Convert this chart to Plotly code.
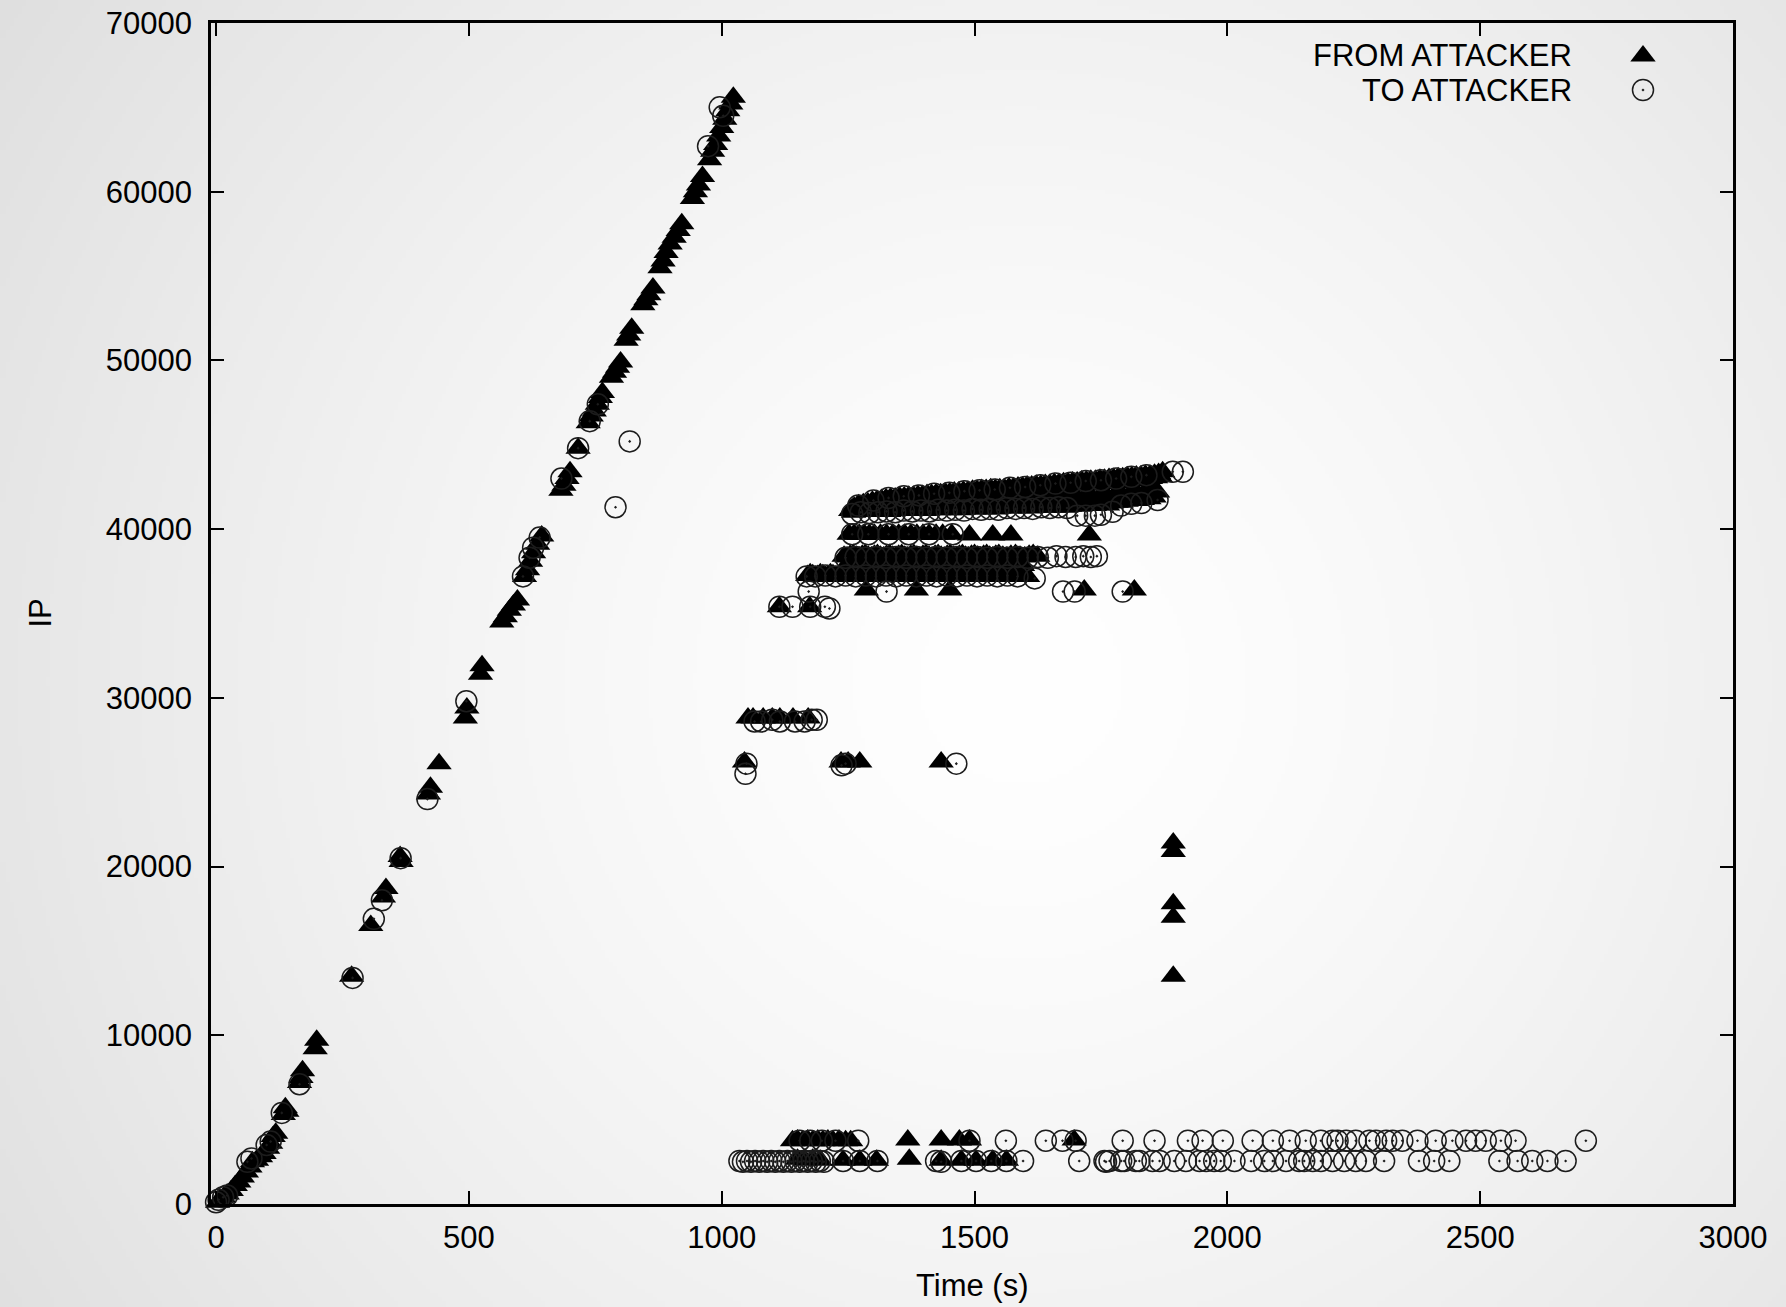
import zlib, struct, base64
import numpy as np
import plotly.graph_objects as go

# ---------------- DATA (time [s], IP) ----------------
from_main = [(3,100),(8,250),(15,400),(22,600),(30,800),(38,1100),(45,1300),(52,1600),(60,1900),(67,2200),
    (72,2500),(80,2600),(88,2800),(95,3000),(102,3300),(108,3600),(113,4000),(118,4200),(133,5300),(137,5700),
    (140,5500),(165,7200),(168,7500),(171,7900),(196,9200),(199,9700),(268,13500),(306,16500),(331,18200),
    (336,18700),(364,20600),(366,20300),(420,24300),(424,24700),(441,26100),(493,28800),(496,29400),(523,31400),
    (526,31900),(565,34500),(572,34800),(580,35200),(588,35500),(596,35800),(610,37200),(616,37600),(622,38100),
    (628,38600),(636,39100),(644,39600),(682,42300),(688,42600),(694,43000),(700,43400),(716,44800),(736,46300),
    (742,46700),(748,47000),(754,47400),(760,47800),(764,48100),(782,49000),(788,49300),(794,49600),(800,49900),
    (811,51200),(816,51500),(822,51900),(844,53300),(850,53600),(856,53900),(864,54300),(878,55500),(884,55900),
    (890,56400),(898,56900),(906,57300),(914,57700),(921,58100),(942,59600),(948,60000),(954,60400),(962,60900),
    (976,61900),(982,62400),(988,62800),(994,63300),(1000,63800),(1006,64300),(1012,64800),(1018,65200),(1023,65600)]

to_main = [(0,100),(5,250),(14,400),(22,500),(62,2500),(70,2700),(100,3500),(108,3700),(130,5400),(165,7100),
    (270,13400),(312,16900),(328,18000),(365,20500),(418,24000),(495,29800),(607,37200),(620,38300),(627,38900),
    (640,39500),(683,43000),(716,44800),(739,46400),(755,47400),(790,41300),(818,45200),(973,62700),(996,65000),
    (1003,64500)]

from_mid = [(1045,26200),(1236,26200),(1250,26200),(1273,26200),(1434,26200),(1052,28800),(1062,28800),
    (1082,28800),(1100,28800),(1115,28800),(1141,28800),(1171,28800),(1114,35400),(1174,35400)]

to_mid = [(1047,25500),(1049,26100),(1237,26000),(1245,26100),(1464,26100),(1065,28600),(1078,28600),
    (1100,28700),(1115,28600),(1145,28600),(1164,28600),(1178,28700),(1188,28700),(1114,35400),(1140,35400),
    (1175,35400),(1204,35400),(1213,35300),(1172,36300)]

from_band_top = [(1255,41100),(1268,41050),(1282,41150),(1296,41100),(1310,41050),(1324,41150),(1338,41100),
    (1352,41200),(1366,41150),(1380,41100),(1394,41200),(1408,41150),(1422,41250),(1436,41200),(1450,41150),
    (1464,41250),(1478,41200),(1492,41300),(1506,41250),(1520,41200),(1534,41300),(1548,41250),(1562,41350),
    (1576,41300),(1590,41250),(1604,41350),(1618,41300),(1632,41400),(1646,41350),(1660,41300),(1674,41400),
    (1688,41350),(1702,41450),(1716,41400),(1730,41500),(1744,41450),(1763,41430),(1780,41600),(1800,41650),
    (1820,41700),(1845,41800),
    (1262,41300),(1280,41500),(1298,41650),(1316,41750),(1334,41850),(1352,41900),(1370,41950),(1388,42000),
    (1406,42050),(1424,42100),(1442,42150),(1460,42200),(1478,42250),(1496,42300),(1514,42350),(1532,42400),
    (1550,42400),(1568,42450),(1586,42500),(1604,42550),(1622,42600),(1640,42650),(1658,42700),(1676,42750),
    (1694,42800),(1712,42850),(1730,42900),(1748,42950),(1766,43000),(1784,43050),(1802,43100),(1820,43150),
    (1838,43200),(1856,43250),(1872,43400),
    (1275,41300),(1305,41400),(1335,41500),(1365,41550),(1395,41600),(1425,41700),(1455,41700),(1485,41750),
    (1515,41800),(1545,41850),(1575,41900),(1605,41950),(1635,42000),(1665,42050),(1695,42100),(1725,42150),
    (1755,42200),(1785,42300),(1815,42350),(1845,42500)]

from_band_top_extra = [(1261,41000),(1275,41150),(1289,41050),(1303,41150),(1317,41100),(1331,41050),
    (1345,41150),(1359,41100),(1373,41200),(1387,41150),(1401,41100),(1415,41200),(1429,41150),(1443,41250),
    (1457,41200),(1471,41150),(1485,41250),(1499,41200),(1513,41300),(1527,41250),(1541,41200),(1555,41300),
    (1569,41250),(1583,41350),(1597,41300),(1611,41250),(1625,41350),(1639,41300),(1653,41400),(1667,41350),
    (1681,41300),(1695,41400),(1709,41350),(1723,41450),(1737,41400),(1752,41500),(1771,41550),(1790,41600),
    (1810,41700),(1832,41750),(1855,41900),
    (1271,41450),(1289,41550),(1307,41700),(1325,41800),(1343,41850),(1361,41900),(1379,41950),(1397,42000),
    (1415,42050),(1433,42100),(1451,42150),(1469,42200),(1487,42250),(1505,42300),(1523,42350),(1541,42350),
    (1559,42400),(1577,42450),(1595,42500),(1613,42550),(1631,42600),(1649,42650),(1667,42700),(1685,42750),
    (1703,42800),(1721,42850),(1739,42900),(1757,42950),(1775,43000),(1793,43050),(1811,43100),(1829,43150),
    (1847,43200),(1864,43300)]

from_band_top_fill = [(1258,41200),(1268,41350),(1278,41400),(1288,41450),(1298,41500),(1308,41550),(1318,41600),
    (1328,41650),(1338,41650),(1348,41700),(1358,41750),(1368,41750),(1378,41800),(1388,41800),(1398,41850),
    (1408,41850),(1418,41900),(1428,41900),(1438,41950),(1448,41950),(1458,42000),(1468,42000),(1478,42050),
    (1488,42050),(1498,42100),(1508,42100),(1518,42150),(1528,42150),(1538,42200),(1548,42200),(1558,42200),
    (1568,42250),(1578,42250),(1588,42300),(1598,42300),(1608,42350),(1618,42350),(1628,42400),(1638,42400),
    (1648,42450),(1658,42450),(1668,42500),(1678,42500),(1688,42550),(1698,42550),(1708,42600),(1718,42600),
    (1728,42650),(1738,42650),(1748,42700),(1758,42700),(1768,42750),(1778,42750),(1788,42800),(1798,42850),
    (1808,42850),(1818,42900),(1828,42950),(1838,42950),(1848,43000),(1858,43050),(1868,43100),
    (1265,41200),(1285,41250),(1305,41250),(1325,41300),(1345,41300),(1365,41350),(1385,41350),(1405,41400),
    (1425,41400),(1445,41450),(1465,41450),(1485,41500),(1505,41500),(1525,41550),(1545,41550),(1565,41600),
    (1585,41600),(1605,41650),(1625,41650),(1645,41700),(1665,41700),(1685,41750),(1705,41750),(1725,41800),
    (1745,41800),(1765,41850),(1785,41900),(1805,41950),(1825,42000),(1845,42100),(1862,42200)]

to_band_top = [(1258,40900),(1275,41000),(1292,40950),(1309,41000),(1326,41050),(1343,41000),(1360,41100),
    (1377,41050),(1394,41100),(1411,41050),(1428,41150),(1445,41100),(1462,41150),(1479,41100),(1496,41200),
    (1513,41150),(1530,41200),(1547,41150),(1564,41250),(1581,41200),(1598,41250),(1615,41200),(1632,41300),
    (1649,41250),(1666,41300),(1683,41250),(1703,40800),(1720,40800),(1738,40800),(1750,40850),(1773,41030),
    (1790,41400),(1810,41500),(1830,41550),(1862,41730),(1892,43400),(1912,43400),
    (1270,41400),(1300,41700),(1330,41850),(1360,41950),(1390,42000),(1420,42100),(1450,42150),(1480,42250),
    (1510,42300),(1540,42350),(1570,42450),(1600,42500),(1630,42600),(1660,42700),(1690,42750),(1720,42850),
    (1750,42900),(1780,43000),(1810,43100),(1840,43200)]

from_row_39700 = [(1252,39700),(1262,39700),(1272,39700),(1282,39700),(1292,39700),(1302,39700),(1314,39700),
    (1326,39700),(1338,39700),(1350,39700),(1362,39700),(1374,39700),(1386,39700),(1398,39700),(1410,39700),
    (1424,39700),(1437,39700),(1455,39700),(1490,39650),(1536,39650),(1572,39650),(1727,39650)]
to_row_39700 = [(1258,39700),(1290,39700),(1330,39700),(1370,39700),(1410,39700),(1457,39700)]

from_row_38400 = [(1242,38400),(1254,38450),(1266,38400),(1278,38450),(1290,38400),(1302,38450),(1314,38400),
    (1326,38450),(1338,38400),(1350,38450),(1362,38400),(1374,38450),(1386,38400),(1398,38450),(1410,38400),
    (1422,38450),(1434,38400),(1446,38450),(1458,38400),(1470,38450),(1482,38400),(1494,38450),(1506,38400),
    (1518,38450),(1530,38400),(1542,38450),(1556,38400),(1572,38450),(1590,38400),(1608,38450),(1625,38400),
    (1248,38350),(1260,38500),(1272,38350),(1284,38500),(1296,38350),(1308,38500),(1320,38350),(1332,38500),
    (1344,38350),(1356,38500),(1368,38350),(1380,38500),(1392,38350),(1404,38500),(1416,38350),(1428,38500),
    (1440,38350),(1452,38500),(1464,38350),(1476,38500),(1488,38350),(1500,38500),(1512,38350),(1524,38500),
    (1536,38350),(1548,38500),(1564,38350),(1581,38500),(1599,38350),(1616,38500)]
to_row_38400 = [(1245,38300),(1265,38350),(1285,38300),(1305,38350),(1325,38300),(1345,38350),(1365,38300),
    (1385,38350),(1405,38300),(1425,38350),(1445,38300),(1465,38350),(1485,38300),(1505,38350),(1525,38300),
    (1545,38350),(1565,38300),(1585,38350),(1605,38300),(1625,38350),(1645,38300),(1662,38400),(1680,38350),
    (1700,38350),(1715,38400),(1730,38350),(1742,38400)]

from_row_37850 = [(1245,37800),(1255,37850),(1265,37800),(1275,37850),(1285,37800),(1295,37850),(1305,37800),
    (1315,37850),(1325,37800),(1335,37850),(1345,37800),(1355,37850),(1365,37800),(1375,37850),(1385,37800),
    (1395,37850),(1405,37800),(1415,37850),(1425,37800),(1435,37850),(1445,37800),(1455,37850),(1465,37800),
    (1475,37850),(1485,37800),(1495,37850),(1505,37800),(1515,37850),(1525,37800),(1535,37850),(1545,37800),
    (1555,37850),(1565,37800),(1575,37850),(1585,37800),(1595,37850)]

from_row_37300 = [(1170,37250),(1180,37300),(1190,37250),(1200,37300),(1210,37250),(1220,37300),(1232,37250),
    (1244,37300),(1256,37250),(1268,37300),(1280,37250),(1292,37300),(1304,37250),(1316,37300),(1328,37250),
    (1340,37300),(1352,37250),(1364,37300),(1376,37250),(1388,37300),(1400,37250),(1412,37300),(1424,37250),
    (1436,37300),(1448,37250),(1460,37300),(1472,37250),(1484,37300),(1500,37250),(1520,37300),(1540,37250),
    (1560,37300),(1580,37250),(1600,37300),
    (1175,37350),(1185,37200),(1195,37350),(1205,37200),(1215,37350),(1226,37200),(1238,37350),(1250,37200),
    (1262,37350),(1274,37200),(1286,37350),(1298,37200),(1310,37350),(1322,37200),(1334,37350),(1346,37200),
    (1358,37350),(1370,37200),(1382,37350),(1394,37200),(1406,37350),(1418,37200),(1430,37350),(1442,37200),
    (1454,37350),(1466,37200),(1478,37350),(1492,37200),(1510,37350),(1530,37200),(1550,37350),(1570,37200),
    (1590,37350),(1605,37200)]
to_row_37300 = [(1168,37200),(1185,37200),(1205,37250),(1225,37200),(1245,37250),(1265,37200),(1285,37250),
    (1305,37200),(1325,37250),(1345,37200),(1365,37250),(1385,37200),(1405,37250),(1425,37200),(1445,37250),
    (1465,37200),(1485,37250),(1505,37200),(1525,37250),(1545,37200),(1565,37250),(1585,37200),(1619,37080)]

from_row_36400 = [(1286,36400),(1385,36400),(1451,36400),(1717,36400),(1816,36400)]
to_row_36400 = [(1326,36300),(1675,36300),(1698,36300),(1793,36300)]

from_bottom = [(1140,3750),(1150,3800),(1160,3750),(1170,3800),(1180,3750),(1190,3800),(1200,3750),(1210,3800),
    (1220,3750),(1232,3800),(1245,3750),(1255,3750),(1368,3800),(1434,3800),(1470,3800),(1490,3800),(1697,3800),
    (1150,2650),(1165,2600),(1180,2650),(1195,2600),(1240,2600),(1273,2600),(1306,2600),(1371,2650),(1434,2600),
    (1474,2600),(1503,2600),(1536,2600),(1563,2600)]

to_bottom = [(1035,2550),(1042,2500),(1050,2550),(1058,2500),(1066,2550),(1074,2500),(1082,2550),(1090,2500),
    (1098,2550),(1106,2500),(1114,2550),(1122,2500),(1130,2550),(1138,2500),(1146,2550),(1154,2500),(1162,2550),
    (1170,2500),(1178,2550),(1186,2500),(1194,2550),(1202,2500),(1240,2550),(1273,2550),(1308,2550),(1424,2550),
    (1434,2500),(1474,2550),(1503,2550),(1533,2550),(1563,2550),(1596,2550),(1707,2550),(1757,2550),(1760,2500),
    (1767,2550),(1790,2550),(1796,2550),(1819,2550),(1826,2550),(1852,2550),(1866,2550),(1895,2550),(1918,2550),
    (1945,2550),(1958,2550),(1974,2550),(1987,2550),(2014,2550),(2047,2550),(2073,2550),(2090,2550),(2116,2550),
    (2142,2550),(2152,2550),(2169,2550),(2185,2550),(2208,2550),(2231,2550),(2254,2550),(2274,2550),(2310,2550),
    (2379,2550),(2409,2550),(2439,2550),(2538,2550),(2574,2550),(2603,2550),(2633,2550),(2669,2550),
    (1154,3750),(1175,3750),(1198,3750),(1225,3750),(1270,3750),(1490,3750),(1562,3750),(1641,3750),(1674,3750),
    (1700,3750),(1793,3750),(1856,3750),(1922,3750),(1951,3750),(1991,3750),(2050,3750),(2090,3750),(2123,3750),
    (2155,3750),(2185,3750),(2208,3750),(2218,3750),(2235,3750),(2254,3750),(2281,3750),(2294,3750),(2314,3750),
    (2327,3750),(2346,3750),(2376,3750),(2412,3750),(2445,3750),(2472,3750),(2491,3750),(2511,3750),(2541,3750),
    (2570,3750),(2709,3750)]

from_outliers = [(1893,21400),(1893,20900),(1893,17800),(1893,17000),(1893,13500)]

series_names = ["FROM ATTACKER", "TO ATTACKER"]
x_ticks = [0, 500, 1000, 1500, 2000, 2500, 3000]
y_ticks = [0, 10000, 20000, 30000, 40000, 50000, 60000, 70000]

from_all = (from_main + from_mid + from_band_top + from_band_top_extra + from_band_top_fill + from_row_39700
            + from_row_38400 + from_row_37850 + from_row_37300 + from_row_36400 + from_bottom + from_outliers)
to_all = (to_main + to_mid + to_band_top + to_row_39700 + to_row_38400 + to_row_37300
          + to_row_36400 + to_bottom)

# ---------------- background radial gradient ----------------
W, H = 1786, 1307
def png_gray(arr):
    h, w = arr.shape
    raw = b''.join(b'\x00' + arr[i].tobytes() for i in range(h))
    def chunk(tag, data):
        c = struct.pack('>I', len(data)) + tag + data
        return c + struct.pack('>I', zlib.crc32(tag + data) & 0xffffffff)
    png = (b'\x89PNG\r\n\x1a\n' + chunk(b'IHDR', struct.pack('>IIBBBBB', w, h, 8, 0, 0, 0, 0))
           + chunk(b'IDAT', zlib.compress(raw, 9)) + chunk(b'IEND', b''))
    return 'data:image/png;base64,' + base64.b64encode(png).decode()

gw, gh = 447, 327
yy, xx = np.mgrid[0:gh, 0:gw]
cx, cy = 1020 / 4, 680 / 4
r = np.sqrt((xx - cx) ** 2 + (yy - cy) ** 2) / (1180 / 4)
val = 255 - 30 * np.clip(r, 0, 1.1) ** 1.4
bg_src = png_gray(np.clip(val, 0, 255).astype(np.uint8))

# ---------------- figure ----------------
L, R, T, B = 211, 53, 23, 103
pw, ph = W - L - R, H - T - B
FONT = "Liberation Sans, Arial, Helvetica, sans-serif"

tri = dict(symbol="triangle-up", size=22, color="black", line=dict(width=0))
circ = dict(symbol="circle-open-dot", size=21, color="#1c1c1c", line=dict(width=1.5))

fig = go.Figure()
fig.add_trace(go.Scatter(x=[p[0] for p in from_all], y=[p[1] for p in from_all], mode="markers",
                         name=series_names[0], marker=tri, cliponaxis=False, showlegend=False))
fig.add_trace(go.Scatter(x=[p[0] for p in to_all], y=[p[1] for p in to_all], mode="markers",
                         name=series_names[1], marker=circ, cliponaxis=False, showlegend=False))

# legend (gnuplot style: text right-aligned, symbol on the right)
leg_x_sym = (1643 - L) / pw
leg_x_txt = (1574 - L) / pw
leg_y = [(H - B - 56) / ph, (H - B - 90) / ph]
fig.add_trace(go.Scatter(x=[leg_x_sym], y=[leg_y[0]], xaxis="x2", yaxis="y2", mode="markers",
                         marker=tri, showlegend=False, hoverinfo="skip"))
fig.add_trace(go.Scatter(x=[leg_x_sym], y=[leg_y[1]], xaxis="x2", yaxis="y2", mode="markers",
                         marker=circ, showlegend=False, hoverinfo="skip"))
for name, yv in zip(series_names, leg_y):
    fig.add_annotation(x=leg_x_txt, y=yv, xref="paper", yref="paper", text=name, showarrow=False,
                       xanchor="right", yanchor="middle", font=dict(size=31, color="black", family=FONT))

fig.add_annotation(x=(972 - L) / pw, y=-(1285 - (H - B)) / ph, xref="paper", yref="paper", text="Time (s)",
                   showarrow=False, xanchor="center", yanchor="middle",
                   font=dict(size=31, color="black", family=FONT))
fig.add_annotation(x=-(L - 40) / pw, y=0.5, xref="paper", yref="paper", text="IP", textangle=-90,
                   showarrow=False, xanchor="center", yanchor="middle",
                   font=dict(size=31, color="black", family=FONT))

axis_common = dict(showline=True, linecolor="black", linewidth=2.5, mirror="ticks", ticks="inside",
                   ticklen=13, tickwidth=2, tickcolor="black", showgrid=False, zeroline=False,
                   tickfont=dict(size=31, color="black", family=FONT))
fig.update_layout(
    width=W, height=H, margin=dict(l=L, r=R, t=T, b=B, autoexpand=False),
    paper_bgcolor="#ebebeb", plot_bgcolor="rgba(0,0,0,0)",
    xaxis=dict(range=[-10, 3000], tickvals=x_ticks, ticktext=[str(v) for v in x_ticks],
               ticklabelstandoff=4, **axis_common),
    yaxis=dict(range=[0, 70000], tickvals=y_ticks, ticktext=[str(v) for v in y_ticks],
               ticklabelstandoff=10, **axis_common),
    xaxis2=dict(overlaying="x", range=[0, 1], visible=False),
    yaxis2=dict(overlaying="y", range=[0, 1], visible=False),
    images=[dict(source=bg_src, xref="paper", yref="paper", x=-L / pw, y=1 + T / ph,
                 sizex=W / pw, sizey=H / ph, sizing="stretch", layer="below", xanchor="left", yanchor="top")],
    showlegend=False,
)
fig.write_html("out.html", config={"displayModeBar": False},
               post_script="document.body.style.margin='0px';document.body.style.overflow='hidden';")
